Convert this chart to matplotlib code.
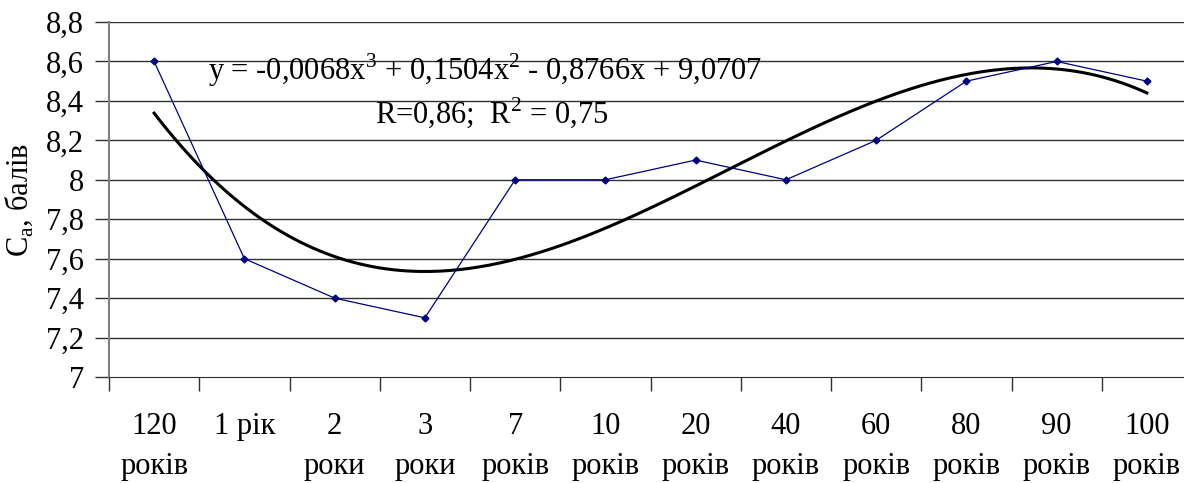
import numpy as np
import matplotlib.pyplot as plt
from matplotlib.ticker import FuncFormatter

plt.rcParams['font.family'] = ['Liberation Serif', 'DejaVu Serif']

# data
categories = ['120\nроків', '1 рік', '2\nроки', '3\nроки', '7\nроків', '10\nроків',
              '20\nроків', '40\nроків', '60\nроків', '80\nроків', '90\nроків', '100\nроків']
values = [8.6, 7.6, 7.4, 7.3, 8.0, 8.0, 8.1, 8.0, 8.2, 8.5, 8.6, 8.5]

x = np.arange(1, len(values) + 1)

fig = plt.figure(figsize=(11.84, 4.83), dpi=100)
ax = fig.add_axes([109 / 1184, 1 - 377 / 483, 1083 / 1184, 355 / 483])

for y in np.arange(7.2, 8.81, 0.2):
    ax.axhline(y, color='#303030', lw=1, zorder=0)

ax.plot(x, values, color='#000080', lw=0.9, marker='D', markersize=3.5, zorder=3)

# cubic trend line
coef = np.polyfit(x, values, 3)
xs = np.linspace(1, 12, 300)
ax.plot(xs, np.polyval(coef, xs), color='black', lw=2.2, zorder=2)

ax.set_xlim(0.5, 12.5)
ax.set_ylim(7, 8.8)
ax.set_yticks(np.arange(7, 8.81, 0.2))
ax.yaxis.set_major_formatter(FuncFormatter(lambda v, p: ('%g' % round(v, 1)).replace('.', ',')))
ax.set_xticks(x)
ax.set_xticklabels(categories, linespacing=1.5, va='top')
ax.set_xticks(np.arange(0.5, 12.6, 1), minor=True)
ax.tick_params(axis='x', which='major', length=0, pad=25, labelsize=22)
ax.tick_params(axis='x', which='minor', length=10, width=1, color='#303030', direction='out')
ax.tick_params(axis='y', length=10, width=1, color='#303030', labelsize=22, pad=8)

for s in ['top', 'right']:
    ax.spines[s].set_visible(False)
ax.spines['left'].set_color('#808080')
ax.spines['left'].set_linewidth(1.5)
ax.spines['bottom'].set_color('#303030')

ax.set_ylabel('C$_\\mathregular{a}$, балів', fontsize=22, labelpad=8)

fig.text(208 / 1184, 1 - 70 / 483, 'y = -0,0068x$^\\mathregular{3}$ + 0,1504x$^\\mathregular{2}$ - 0,8766x + 9,0707',
         fontsize=22, va='center', ha='left')
fig.text(375 / 1184, 1 - 113 / 483, 'R=0,86;  R$^\\mathregular{2}$ = 0,75',
         fontsize=22, va='center', ha='left')

fig.savefig('out.png', dpi=100)
